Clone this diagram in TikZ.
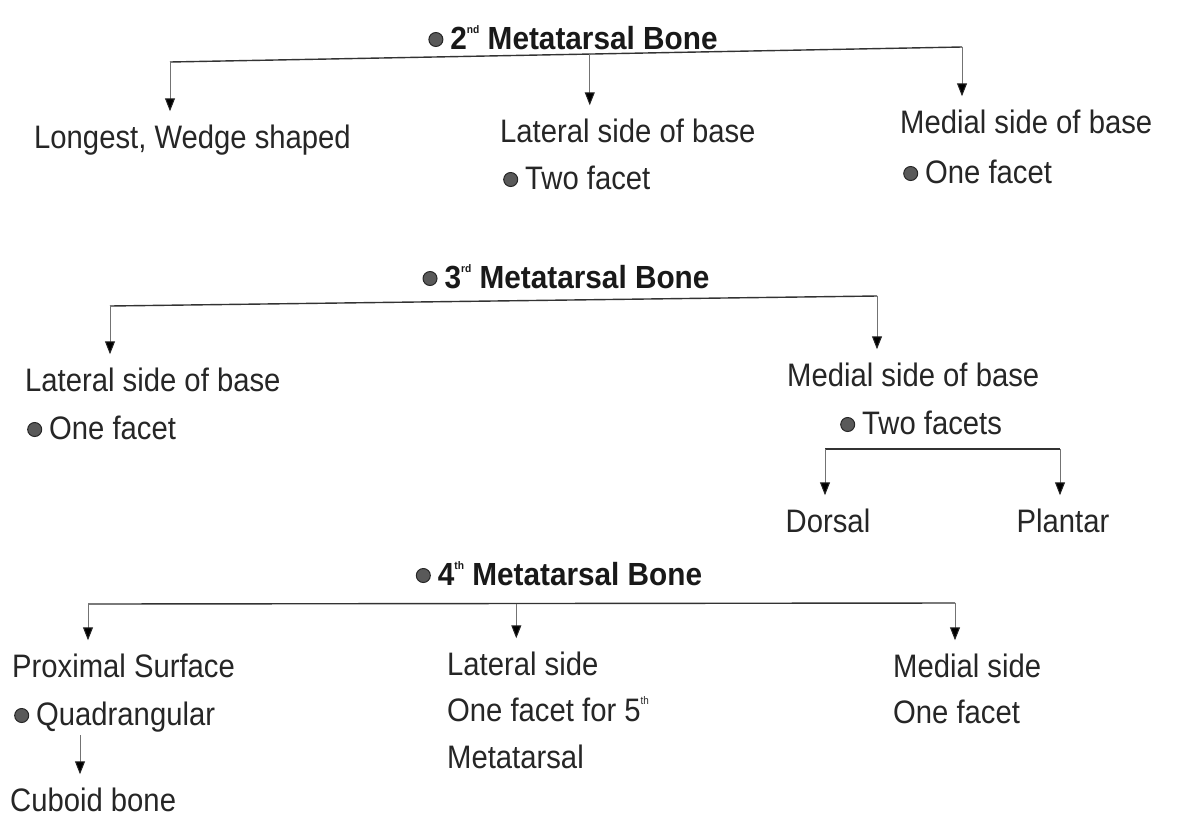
\documentclass[tikz,border=0pt]{standalone}
\usepackage{fontspec}
\setmainfont{Liberation Sans}[FakeStretch=0.9]
\newfontfamily\tfont{Liberation Sans}[FakeStretch=0.93]
\usetikzlibrary{arrows.meta,calc}
\newcommand\sprs[1]{\raisebox{0.5em}{\fontsize{11}{11}\selectfont #1}}
\newcommand\bul{\tikz[baseline=-9.5pt]\filldraw[fill=black!65,draw=black!85,line width=1pt] (0,0) circle[radius=7pt];\hspace{7pt}}
\begin{document}
\begin{tikzpicture}[x=1pt,y=-1pt,
  txt/.style={anchor=base west, inner sep=0pt, font=\fontsize{32.5}{38}\selectfont, text=black!85},
  ttl/.style={anchor=base, inner sep=0pt, font=\tfont\bfseries\fontsize{32}{38}\selectfont, text=black!90},
  hline/.style={line width=1.4pt, draw=black!80},
  arr/.style={line width=1pt, draw=black!55, -{Triangle[width=10pt,length=13pt,color=black!85]}, shorten >=13pt}]
\fill[white] (0,0) rectangle (1183,820);
\useasboundingbox (0,0) rectangle (1183,820);

% ---- 2nd metatarsal
\node[ttl] (t2) at (573,49) {\bul 2\sprs{nd} Metatarsal Bone};
\coordinate (l2a) at (170,62);
\coordinate (l2c) at (962,47);
\coordinate (l2b) at ($(l2a)!0.53!(l2c)$);
\draw[hline] (l2a) -- (l2c);
\node[txt] (a1) at (34,148) {Longest, Wedge shaped};
\node[txt] (a2) at (500,142) {Lateral side of base};
\node[txt] (a2b) at (503,189) {\bul Two facet};
\node[txt] (a3) at (900,133) {Medial side of base};
\node[txt] (a3b) at (903,183) {\bul One facet};
\draw[arr] (l2a) -- (l2a |- a1.north);
\draw[arr] (l2b) -- (l2b |- a2.north);
\draw[arr] (l2c) -- (l2c |- a3.north);

% ---- 3rd metatarsal
\node[ttl] (t3) at (566,288) {\bul 3\sprs{rd} Metatarsal Bone};
\coordinate (l3a) at (110,306);
\coordinate (l3c) at (877,296);
\draw[hline] (l3a) -- (l3c);
\node[txt] (b1) at (25,391) {Lateral side of base};
\node[txt] (b1b) at (27,439) {\bul One facet};
\node[txt] (b2) at (787,386) {Medial side of base};
\node[txt] (b2b) at (840,434) {\bul Two facets};
\draw[arr] (l3a) -- (l3a |- b1.north);
\draw[arr] (l3c) -- (l3c |- b2.north);
\coordinate (l4a) at (825,449);
\coordinate (l4b) at (1060,449);
\draw[hline] (l4a) -- (l4b);
\node[txt, anchor=base] (c1) at (828,532) {Dorsal};
\node[txt, anchor=base] (c2) at (1063,532) {Plantar};
\draw[arr] (l4a) -- (l4a |- c1.north);
\draw[arr] (l4b) -- (l4b |- c2.north);

% ---- 4th metatarsal
\node[ttl] (t4) at (559,585) {\bul 4\sprs{th} Metatarsal Bone};
\coordinate (l5a) at (88,604);
\coordinate (l5c) at (955,603);
\coordinate (l5b) at ($(l5a)!0.494!(l5c)$);
\draw[hline] (l5a) -- (l5c);
\node[txt] (d1) at (12,677) {Proximal Surface};
\node[txt] (d1b) at (14,725) {\bul Quadrangular};
\node[txt] (d2) at (10,811) {Cuboid bone};
\coordinate (q) at (80,735);
\draw[arr] (l5a) -- (l5a |- d1.north);
\draw[arr] (q) -- (q |- d2.north);
\node[txt] (e1) at (447,675) {Lateral side};
\node[txt] (e2) at (447,721) {One facet for 5\sprs{th}};
\node[txt] (e3) at (447,768) {Metatarsal};
\draw[arr] (l5b) -- (l5b |- e1.north);
\node[txt] (f1) at (893,677) {Medial side};
\node[txt] (f2) at (893,723) {One facet};
\draw[arr] (l5c) -- (l5c |- f1.north);
\end{tikzpicture}
\end{document}
